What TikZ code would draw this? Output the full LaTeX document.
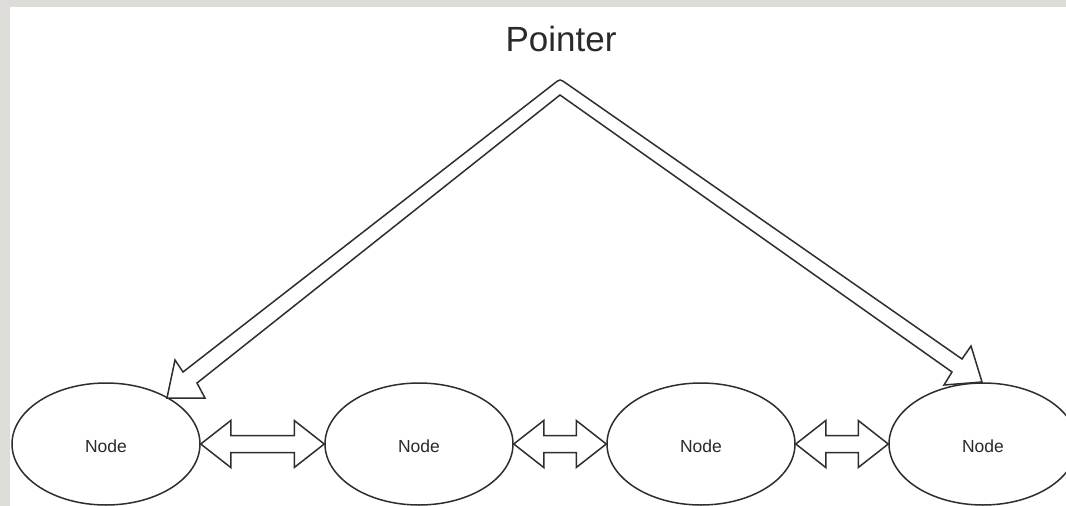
\documentclass[tikz,border=0pt]{standalone}
\usepackage{fontspec}
\setmainfont{Liberation Sans}
\usetikzlibrary{calc,shapes.geometric}
\definecolor{edgegray}{HTML}{2E2E2E}
\definecolor{framegray}{HTML}{DEDCD8}
\definecolor{txtgray}{HTML}{2A2A2A}
\tikzset{
  nodeell/.style={ellipse, draw=edgegray, line width=1.5pt, fill=white,
    minimum width=188pt, minimum height=122pt, inner sep=0pt,
    font=\fontsize{17.5pt}{20pt}\selectfont, text=txtgray,
    text height=16pt, text depth=0pt},
  dblarrow/.style={draw=edgegray, line width=1.5pt, fill=white},
  bigarrow/.style={draw=edgegray, line width=1.5pt, fill=white},
  title/.style={font=\fontsize{35pt}{40pt}\selectfont, text=txtgray, inner sep=0pt}
}
\newcommand\dblarr[2]{%
  \draw[dblarrow] let \p1=(#1.east), \p2=(#2.west) in
    (\x1,\y1) -- (\x1+30pt,\y1+23.5pt) -- (\x1+30pt,\y1+8.5pt)
    -- (\x2-30pt,\y1+8.5pt) -- (\x2-30pt,\y1+23.5pt) -- (\x2,\y1)
    -- (\x2-30pt,\y1-23.5pt) -- (\x2-30pt,\y1-8.5pt)
    -- (\x1+30pt,\y1-8.5pt) -- (\x1+30pt,\y1-23.5pt) -- cycle;}
\begin{document}
\begin{tikzpicture}[x=1pt,y=-1pt]
\useasboundingbox (0,0) rectangle (1066,506);
\clip (0,0) rectangle (1066,506);
\fill[framegray] (0,0) rectangle (1066,506);
\fill[white] (10,7) rectangle (1066,506);

\node[title] (ptr) at (561,39) {Pointer};

\node[nodeell] (n1) at (106,444) {Node};
\node[nodeell] (n2) at (419,444) {Node};
\node[nodeell] (n3) at (701,444) {Node};
\node[nodeell] (n4) at (983,444) {Node};

\dblarr{n1}{n2}
\dblarr{n2}{n3}
\dblarr{n3}{n4}

\draw[bigarrow]
  (183,372) -- (554.5,83.3) .. controls (560,79) .. (565.7,83.0)
  -- (962,359) -- (971,346) -- (982,382) -- (944,385) -- (952,372)
  -- (560,95) -- (197,383) -- (205,398) -- (167,398) -- (175,360) -- cycle;
\end{tikzpicture}
\end{document}
